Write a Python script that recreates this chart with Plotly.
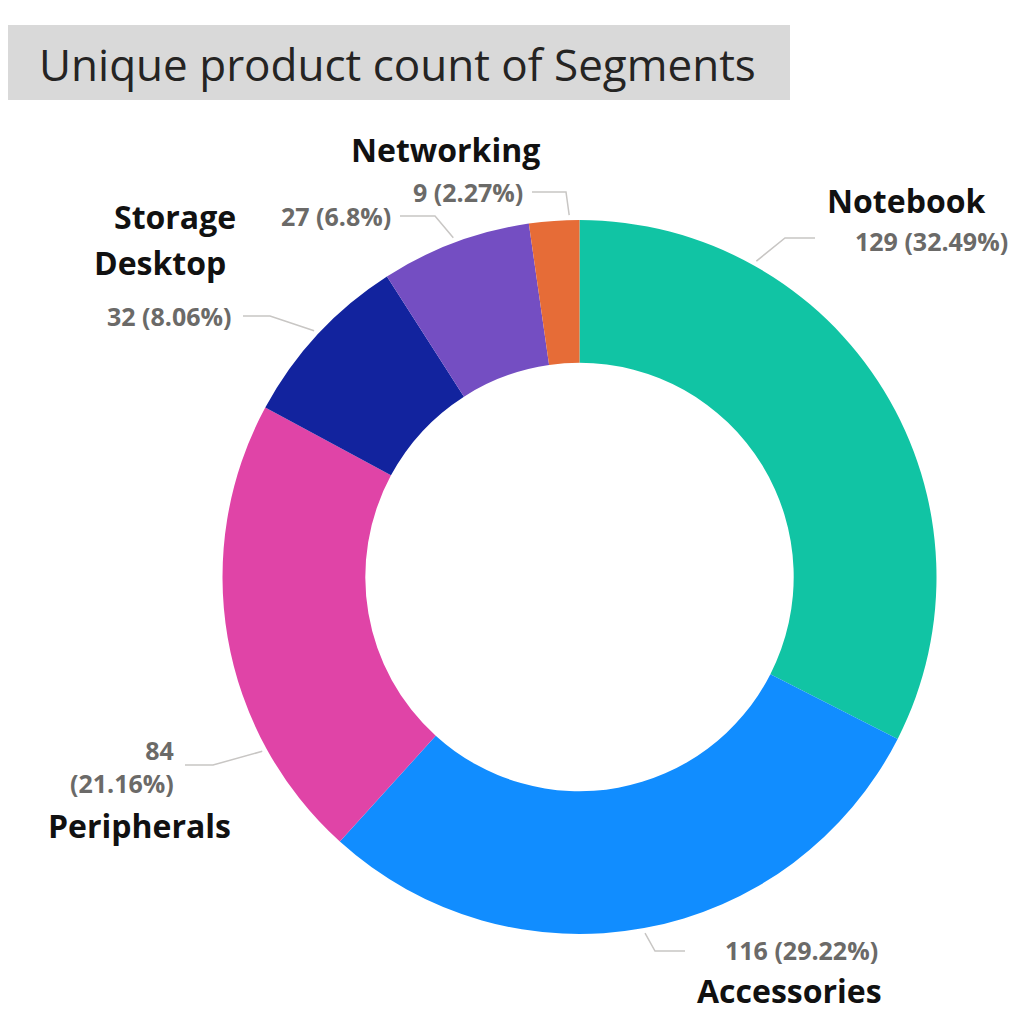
import math
import plotly.graph_objects as go

# ---- data ----
categories = ["Notebook", "Accessories", "Peripherals", "Desktop", "Storage", "Networking"]
counts = [129, 116, 84, 32, 27, 9]
colors = ["#11C4A4", "#118DFF", "#E044A7", "#12239E", "#744EC2", "#E66C37"]
title_text = "Unique product count of Segments"

# page body has an 8px margin; figure is sized to fit the 1024x1020 window
OFF = 8
FW, FH = 1008, 1004
CX, CY, R = 579.5, 577.0, 357.0  # donut centre / radius in window pixels
HOLE = 0.6

def px(x):
    return (x - OFF) / FW

def py(y):
    return 1 - (y - OFF) / FH

total = sum(counts)
pct = [c / total * 100 for c in counts]
value_text = [f"{c} ({round(p, 2):g}%)" for c, p in zip(counts, pct)]

# ---- label layout (style, in window pixels) ----
label_style = {
    "Notebook":    dict(frac=0.25, elbow=(785, 238), end=(815, 238),
                        name=(988, 200, "right"), val=(1010, 241, "right"), split=False),
    "Accessories": dict(frac=0.5, elbow=(655, 951), end=(685, 951),
                        name=(884, 990, "right"), val=(880, 950, "right"), split=False),
    "Peripherals": dict(frac=0.25, elbow=(213, 765), end=(185, 765),
                        name=(233, 825, "right"), val=(176, 766, "right"), split=True),
    "Desktop":     dict(frac=0.5, elbow=(270, 316), end=(243, 316),
                        name=(228, 262, "right"), val=(234, 316, "right"), split=False),
    "Storage":     dict(frac=0.5, elbow=(435, 216), end=(400, 216),
                        name=(238, 216, "right"), val=(393, 216, "right"), split=False),
    "Networking":  dict(frac=0.8, elbow=(566, 192), end=(532, 192),
                        name=(445, 150, "center"), val=(525, 192, "right"), split=False),
}

NAME_FONT = dict(family="Open Sans, sans-serif", size=32, color="#111111")
VAL_FONT = dict(family="Open Sans, sans-serif", size=25, color="#6B6A68")

fig = go.Figure()
fig.add_trace(go.Pie(
    labels=categories,
    values=counts,
    marker=dict(colors=colors, line=dict(width=0)),
    hole=HOLE,
    sort=False,
    direction="clockwise",
    rotation=0,
    textinfo="none",
    hoverinfo="label+value+percent",
    showlegend=False,
    domain=dict(x=[px(CX - R), px(CX + R)], y=[py(CY + R), py(CY - R)]),
))

shapes = []
annotations = []

# title box
shapes.append(dict(type="rect", xref="paper", yref="paper",
                   x0=px(7), x1=px(790), y0=py(100), y1=py(25),
                   fillcolor="#D9D9D9", line=dict(width=0), layer="below"))
annotations.append(dict(text=title_text, xref="paper", yref="paper",
                        x=px(37), y=py(64), xanchor="left", yanchor="middle",
                        showarrow=False,
                        font=dict(family="Open Sans, Segoe UI, sans-serif", size=44, color="#252423")))

cum = 0.0
for cat, c, vt in zip(categories, counts, value_text):
    st = label_style[cat]
    a0 = cum / total * 360
    a1 = (cum + c) / total * 360
    cum += c
    ang = math.radians(a0 + (a1 - a0) * st["frac"])
    rr = R + 5
    sx = CX + rr * math.sin(ang)
    sy = CY - rr * math.cos(ang)
    ex, ey = st["elbow"]
    fx, fy = st["end"]
    path = f"M {px(sx)},{py(sy)} L {px(ex)},{py(ey)} L {px(fx)},{py(fy)}"
    shapes.append(dict(type="path", xref="paper", yref="paper", path=path,
                       line=dict(color="#C8C6C4", width=1.5)))
    nx, ny, nanchor = st["name"]
    annotations.append(dict(text=f"<b>{cat}</b>", xref="paper", yref="paper",
                            x=px(nx), y=py(ny), xanchor=nanchor, yanchor="middle",
                            showarrow=False, font=NAME_FONT))
    vx, vy, vanchor = st["val"]
    txt = vt.replace(" ", "<br>") if st["split"] else vt
    txt = "<br>".join(f"<b>{t}</b>" for t in txt.split("<br>"))
    annotations.append(dict(text=txt, xref="paper", yref="paper",
                            x=px(vx), y=py(vy), xanchor=vanchor, yanchor="middle",
                            align="right", showarrow=False, font=VAL_FONT))

fig.update_layout(
    width=FW, height=FH,
    margin=dict(l=0, r=0, t=0, b=0),
    paper_bgcolor="white",
    plot_bgcolor="white",
    shapes=shapes,
    annotations=annotations,
)

fig.write_html("out.html")
